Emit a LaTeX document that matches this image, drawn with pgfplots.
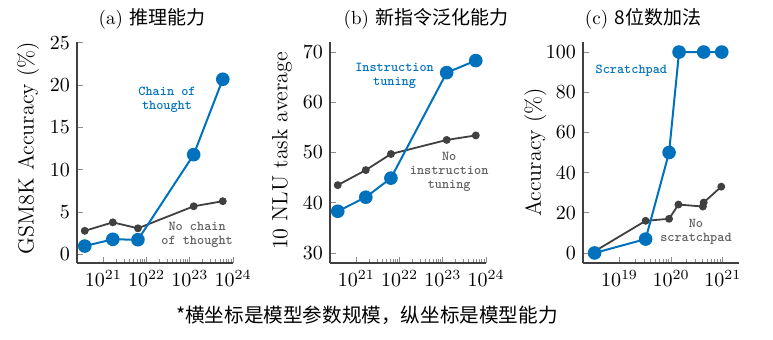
\documentclass[border=0pt]{standalone}
\usepackage{fontspec}
\usepackage{pgfplots}
\pgfplotsset{compat=1.18}
\newfontfamily\cjk{Noto Sans CJK SC}
\definecolor{cblue}{RGB}{0,114,189}
\definecolor{cgray}{RGB}{64,64,64}
\definecolor{tgray}{RGB}{95,95,95}
\pgfplotsset{
  myax/.style={
    scale only axis, width=78pt, height=110.5pt,
    anchor=south west,
    axis lines=left, axis line style={-, draw=black!75, line width=0.6pt},
    tick align=inside, major tick length=3pt, minor tick length=1.8pt,
    every tick/.style={black!45, line width=0.4pt},
    ylabel style={font=\fontsize{11}{13}\selectfont},
    clip=false,
  },
  bl/.style={cblue, line width=1pt, mark=*, mark size=2.9pt, mark options={fill=cblue, draw=cblue}},
  gr/.style={cgray, line width=0.9pt, mark=*, mark size=1.5pt, mark options={fill=cgray, draw=cgray}},
}
\tikzset{ann/.style={font=\fontsize{6.8}{6.9}\selectfont\ttfamily\bfseries, align=center}}
\begin{document}
\begin{tikzpicture}
\useasboundingbox (0,0) rectangle (386.5pt,169.5pt);
% (a)
\begin{semilogxaxis}[myax, at={(38.5pt,38pt)},
  xmin=2.45e20, xmax=1e24, ymin=-1, ymax=25.1,
  xtick={1e21,1e22,1e23,1e24}, ytick={0,5,10,15,20,25},
  ylabel={GSM8K Accuracy (\%)},
  ylabel style={at={(axis description cs:-0.314,0.52)}, anchor=center}]
\addplot[gr] coordinates {(3.7e20,2.8) (1.65e21,3.8) (6.3e21,3.1) (1.23e23,5.7) (5.8e23,6.3)};
\addplot[bl] coordinates {(3.7e20,1.0) (1.65e21,1.8) (6.3e21,1.75) (1.23e23,11.8) (5.8e23,20.7)};
\node[ann, text=cblue] at (axis description cs:0.577,0.738) {Chain of\\thought};
\node[ann, text=tgray] at (axis description cs:0.77,0.127) {No chain\\of thought};
\end{semilogxaxis}
% (b)
\begin{semilogxaxis}[myax, at={(165pt,38pt)},
  xmin=2.45e20, xmax=1e24, ymin=28, ymax=72,
  xtick={1e21,1e22,1e23,1e24}, ytick={30,40,50,60,70},
  ylabel={10 NLU task average},
  ylabel style={at={(axis description cs:-0.308,0.507)}, anchor=center}]
\addplot[gr] coordinates {(3.7e20,43.5) (1.65e21,46.5) (6.3e21,49.7) (1.23e23,52.5) (5.8e23,53.4)};
\addplot[bl] coordinates {(3.7e20,38.3) (1.65e21,41.1) (6.3e21,44.9) (1.23e23,65.9) (5.8e23,68.3)};
\node[ann, text=cblue] at (axis description cs:0.414,0.846) {Instruction\\tuning};
\node[ann, text=tgray] at (axis description cs:0.764,0.413) {No\\instruction\\tuning};
\end{semilogxaxis}
% (c)
\begin{semilogxaxis}[myax, at={(291.5pt,38pt)},
  xmin=1.97e18, xmax=2.05e21, ymin=-5, ymax=105,
  xtick={1e19,1e20,1e21}, ytick={0,20,40,60,80,100},
  ylabel={Accuracy (\%)},
  ylabel style={at={(axis description cs:-0.306,0.5)}, anchor=center}]
\addplot[gr] coordinates {(3.3e18,0.8) (3.2e19,16.0) (9.1e19,17.0) (1.38e20,24.1) (4.1e20,23.1) (4.25e20,25.1) (9.3e20,33.0)};
\addplot[bl] coordinates {(3.3e18,0) (3.2e19,6.9) (9.1e19,50) (1.42e20,100) (4.25e20,100) (9.5e20,100)};
\node[ann, text=cblue] at (axis description cs:0.31,0.869) {Scratchpad};
\node[ann, text=tgray] at (axis description cs:0.724,0.142) {No\\scratchpad};
\end{semilogxaxis}
% titles and caption
\node[font=\fontsize{9.5}{11}\selectfont] at (76pt,160.3pt) {(a) {\cjk 推理能力}};
\node[font=\fontsize{9.5}{11}\selectfont] at (213pt,160.3pt) {(b) {\cjk 新指令泛化能力}};
\node[font=\fontsize{9.5}{11}\selectfont] at (321.5pt,160.3pt) {(c) {\cjk 8位数加法}};
\node[font=\cjk\fontsize{9.8}{12}\selectfont] at (183.5pt,12pt) {*横坐标是模型参数规模，纵坐标是模型能力};
\end{tikzpicture}
\end{document}
